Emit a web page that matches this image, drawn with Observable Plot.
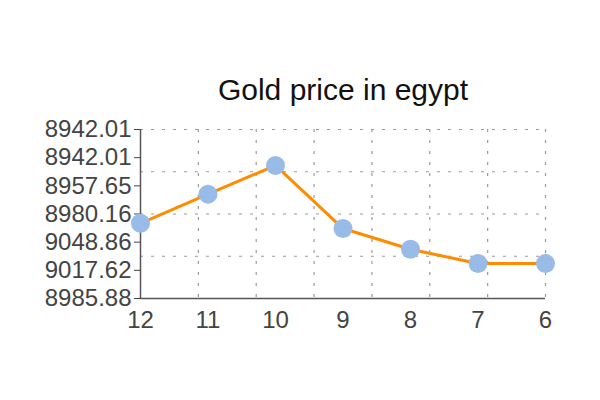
<!DOCTYPE html>
<html><head><meta charset="utf-8">
<script src="https://cdn.jsdelivr.net/npm/d3@7"></script>
<script src="https://cdn.jsdelivr.net/npm/@observablehq/plot@0.6"></script>
<style>
body{margin:0;background:#fff}
#chart svg{font-family:"Liberation Sans",Arial,sans-serif;display:block}
</style>
</head><body><div id="chart"></div>
<script>
const title = "Gold price in egypt";
const months = ["12", "11", "10", "9", "8", "7", "6"];
const prices = [8985.88, 9017.62, 9048.86, 8980.16, 8957.65, 8942.01, 8942.01];
// y tick labels, bottom to top, as printed on the original axis
const yTickLabels = ["8985.88", "9017.62", "9048.86", "8980.16", "8957.65", "8942.01", "8942.01"];
const yDomain = [8904, 9088];

const data = months.map((m, i) => ({i, month: m, price: prices[i]}));
const n = months.length;
const yStep = (yDomain[1] - yDomain[0]) / (yTickLabels.length - 1);
const yTicks = yTickLabels.map((_, k) => yDomain[0] + k * yStep);
const xGrid = d3.range(1, n + 1).map(k => k * (n - 1) / n);
const yGrid = d3.range(1, 5).map(k => yDomain[0] + k * (yDomain[1] - yDomain[0]) / 4);
const gridStyle = {stroke: "#9a9a9a", strokeWidth: 1.2, strokeDasharray: "3,8"};

const chart = Plot.plot({
  width: 600,
  height: 400,
  marginLeft: 140,
  marginRight: 55,
  marginTop: 129,
  marginBottom: 102,
  style: {fontSize: "24px", fontFamily: "'Liberation Sans', Arial, sans-serif", background: "#fff"},
  x: {domain: [0, n - 1]},
  y: {domain: yDomain},
  marks: [
    Plot.ruleX(xGrid, gridStyle),
    Plot.ruleY(yGrid, gridStyle),
    Plot.axisX(d3.range(n), {tickSize: 0, tickPadding: 12, tickFormat: d => months[d], label: null, color: "#444", fontSize: 24}),
    Plot.axisY(yTicks, {tickSize: 6, tickPadding: 3, label: null, color: "#444", fontSize: 24,
      tickFormat: d => yTickLabels[Math.round((d - yDomain[0]) / yStep)]}),
    Plot.ruleX([0], {stroke: "#555", strokeWidth: 1.5}),
    Plot.ruleY([yDomain[0]], {stroke: "#555", strokeWidth: 1.5}),
    Plot.line(data, {x: "i", y: "price", stroke: "#ff8c00", strokeWidth: 3}),
    Plot.dot(data, {x: "i", y: "price", r: 9.5, fill: "#99bbe8", stroke: "none"}),
    Plot.text([title], {text: d => d, frameAnchor: "top", lineAnchor: "bottom", dy: -30, fontSize: 30, fill: "#111"})
  ]
});
document.getElementById("chart").appendChild(chart);
</script>
</body></html>
